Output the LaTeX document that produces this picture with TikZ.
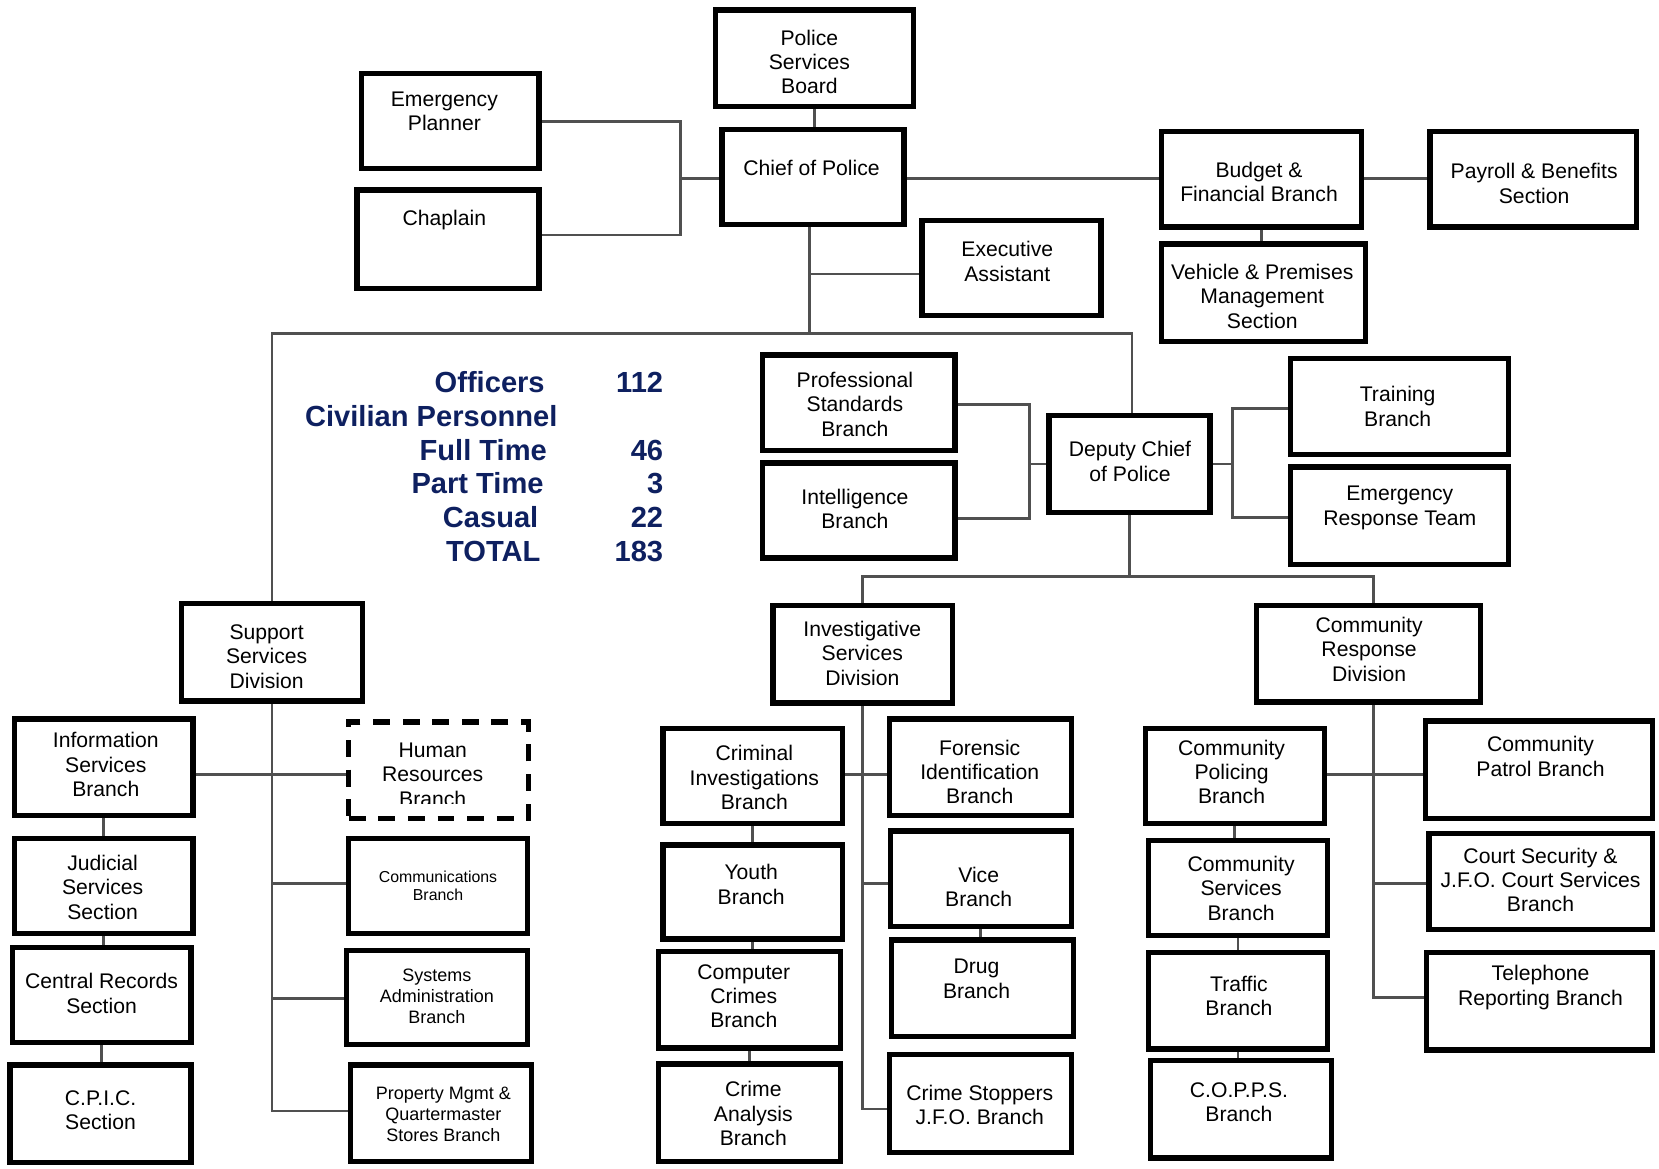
\documentclass[tikz,border=0pt]{standalone}
\usepackage{fontspec}
\setmainfont{Liberation Sans}
\usetikzlibrary{backgrounds}
\definecolor{navy}{RGB}{14,32,96}
\definecolor{conn}{RGB}{80,80,80}
\newcommand\BX[6][box]{\node[#1, minimum width={#5-#3-5}, minimum height={#6-#4-5}] (#2) at ({(#3+#5)/2},{(#4+#6)/2}) {};}
\newcommand\TX[5][]{\node[txt,#1] (#2) at (#3,#4) {#5};}
\begin{document}
\begin{tikzpicture}[x=1pt,y=-1pt,
 box/.style={draw=black, line width=5pt, fill=white, inner sep=0pt},
 hrbox/.style={box, dash pattern=on 16pt off 12pt},
 txt/.style={align=center, font=\fontsize{20}{23}\selectfont, inner sep=0pt},
 small/.style={font=\fontsize{15}{17}\selectfont},
 mid/.style={font=\fontsize{17}{20}\selectfont},
 stat/.style={font=\bfseries\fontsize{27.5}{32}\selectfont, text=navy, inner sep=0pt, anchor=east},
 ln/.style={draw=conn, line width=2.5pt}]
\useasboundingbox (0,0) rectangle (1568,1104);
% boxes
\BX{psb}{674}{7}{866}{103}
\TX{psbt}{765}{58.5}{Police\\Services\\Board}
\BX{chief}{680}{120}{857}{215}
\TX{chieft}{767}{158.5}{Chief of Police}
\BX{ep}{339}{67}{512}{162}
\TX{ept}{420}{105}{Emergency\\Planner}
\BX{chap}{335}{177}{512}{275}
\TX{chapt}{420}{208}{Chaplain}
\BX{ea}{869}{206}{1043}{301}
\TX{eat}{952}{247}{Executive\\Assistant}
\BX{bud}{1095}{122}{1289}{217}
\TX{budt}{1190}{172}{Budget \&\\Financial Branch}
\BX{pay}{1349}{122}{1549}{217}
\TX{payt}{1450}{173.5}{Payroll \& Benefits\\Section}
\BX{veh}{1095}{228}{1293}{325}
\TX{veht}{1193}{280}{Vehicle \& Premises\\Management\\Section}
\BX{ps}{718}{333}{905}{428}
\TX{pst}{808}{382}{Professional\\Standards\\Branch}
\BX{intel}{718}{435}{905}{530}
\TX{intelt}{808}{481}{Intelligence\\Branch}
\BX{dep}{989}{390}{1146}{487}
\TX{dept}{1068}{436}{Deputy Chief\\of Police}
\BX{tr}{1217}{336}{1428}{432}
\TX{trt}{1321}{384}{Training\\Branch}
\BX{ert}{1217}{439}{1428}{536}
\TX{ertt}{1323}{480}{Emergency\\Response Team}
\BX{ssd}{169}{568}{345}{665}
\TX{ssdt}{252}{620.5}{Support\\Services\\Division}
\BX{isd}{728}{570}{903}{667}
\TX{isdt}{815}{617.5}{Investigative\\Services\\Division}
\BX{crd}{1185}{570}{1402}{666}
\TX{crdt}{1294}{613.5}{Community\\Response\\Division}
\BX{isb}{11}{677}{185}{773}
\TX{isbt}{100}{722.5}{Information\\Services\\Branch}
\BX[hrbox]{hr}{327}{680}{502}{776}
\begin{scope}
\clip (330,683) rectangle (500,759);
\TX{hrt}{409}{732}{Human\\Resources\\Branch}
\end{scope}
\BX{jud}{11}{790}{185}{885}
\TX{judt}{97}{838.5}{Judicial\\Services\\Section}
\BX{comm}{327}{790}{501}{885}
\TX[small]{commt}{414}{837}{Communications\\Branch}
\BX{cr}{9}{893}{183}{988}
\TX{crt}{96}{939}{Central Records\\Section}
\BX{sys}{325}{896}{501}{990}
\TX[mid]{syst}{413}{941.5}{Systems\\Administration\\Branch}
\BX{cpic}{7}{1004}{183}{1101}
\TX{cpict}{95}{1049}{C.P.I.C.\\Section}
\BX{prop}{329}{1004}{505}{1100}
\TX[mid]{propt}{419}{1053}{Property Mgmt \&\\Quartermaster\\Stores Branch}
\BX{cib}{624}{686}{799}{781}
\TX{cibt}{713}{735}{Criminal\\Investigations\\Branch}
\BX{fib}{838}{677}{1015}{773}
\TX{fibt}{926}{729.5}{Forensic\\Identification\\Branch}
\BX{youth}{624}{796}{799}{890}
\TX{youtht}{710}{836}{Youth\\Branch}
\BX{vice}{839}{783}{1015}{878}
\TX{vicet}{925}{838}{Vice\\Branch}
\BX{ccb}{620}{897}{797}{993}
\TX{ccbt}{703}{941.5}{Computer\\Crimes\\Branch}
\BX{drug}{840}{886}{1017}{982}
\TX{drugt}{923}{925}{Drug\\Branch}
\BX{ca}{620}{1003}{797}{1100}
\TX{cat}{712}{1052.5}{Crime\\Analysis\\Branch}
\BX{cs}{838}{994}{1015}{1092}
\TX{cst}{926}{1044}{Crime Stoppers\\J.F.O. Branch}
\BX{cpb}{1080}{686}{1254}{781}
\TX{cpbt}{1164}{729.5}{Community\\Policing\\Branch}
\BX{cpat}{1345}{679}{1564}{776}
\TX{cpatt}{1456}{715}{Community\\Patrol Branch}
\BX{csb}{1083}{792}{1257}{887}
\TX{csbt}{1173}{839.5}{Community\\Services\\Branch}
\BX{court}{1348}{785}{1564}{881}
\TX{courtt}{1456}{831.5}{Court Security \&\\J.F.O. Court Services\\Branch}
\BX{traf}{1083}{898}{1257}{994}
\TX{traft}{1171}{941}{Traffic\\Branch}
\BX{tel}{1346}{898}{1564}{995}
\TX{telt}{1456}{933.5}{Telephone\\Reporting Branch}
\BX{copps}{1085}{1000}{1261}{1097}
\TX{coppst}{1171}{1042}{C.O.P.P.S.\\Branch}
% statistics
\node[stat] (s-off) at (515,361) {Officers};
\node[stat] (s-civ) at (527,393) {Civilian Personnel};
\node[stat] (s-ft) at (517,425.5) {Full Time};
\node[stat] (s-pt) at (514,457) {Part Time};
\node[stat] (s-cas) at (509,489) {Casual};
\node[stat] (s-tot) at (511,521) {TOTAL};
\node[stat] (n-off) at (627,361) {112};
\node[stat] (n-ft) at (627,425.5) {46};
\node[stat] (n-pt) at (627,457) {3};
\node[stat] (n-cas) at (627,489) {22};
\node[stat] (n-tot) at (627,521) {183};
% connectors
\begin{pgfonlayer}{background}
\coordinate (epj) at (643,115);
\coordinate (chj) at (643,222);
\coordinate (cmj) at (643,169);
\draw[ln] (ep.east|-epj) -- (epj) -- (chj) -- (chap.east|-chj);
\draw[ln] (chief.west|-cmj) -- (cmj);
\draw[ln] (psb.south) -- (psb.south|-chief.north);
\coordinate (cbj) at (1000,169);
\draw[ln] (chief.east|-cbj) -- (bud.west|-cbj);
\draw[ln] (bud.east|-cbj) -- (pay.west|-cbj);
\draw[ln] (bud.south) -- (bud.south|-veh.north);
\coordinate (cj) at (765,315);
\coordinate (eaj) at (765,259);
\draw[ln] (chief.south-|cj) -- (cj);
\draw[ln] (eaj) -- (ea.west|-eaj);
\coordinate (lj) at (257,315);
\coordinate (rj) at (1070,315);
\draw[ln] (ssd.north-|lj) -- (lj) -- (rj) -- (dep.north-|rj);
\coordinate (d1) at (973,382);
\coordinate (d2) at (973,490);
\draw[ln] (ps.east|-d1) -- (d1) -- (d2) -- (intel.east|-d2);
\draw[ln] (dep.west) -- (dep.west-|d1);
\coordinate (d3) at (1165,386);
\coordinate (d4) at (1165,489);
\draw[ln] (tr.west|-d3) -- (d3) -- (d4) -- (ert.west|-d4);
\draw[ln] (dep.east) -- (dep.east-|d3);
\coordinate (h1) at (815,545);
\coordinate (h2) at (1298,545);
\draw[ln] (isd.north-|h1) -- (h1) -- (h2) -- (crd.north-|h2);
\draw[ln] (dep.south) -- (dep.south|-h1);
% support
\coordinate (s0) at (257,1050);
\coordinate (s1) at (257,732);
\coordinate (s2) at (257,835);
\coordinate (s3) at (257,944);
\draw[ln] (ssd.south-|s0) -- (s0) -- (prop.west|-s0);
\draw[ln] (isb.east|-s1) -- (hr.west|-s1);
\draw[ln] (s2) -- (comm.west|-s2);
\draw[ln] (s3) -- (sys.west|-s3);
\draw[ln] (isb.south) -- (isb.south|-jud.north);
\draw[ln] (jud.south) -- (jud.south|-cr.north);
\draw[ln] (cr.south) -- (cr.south|-cpic.north);
% investigative
\coordinate (i0) at (815,1048);
\coordinate (i1) at (815,732);
\coordinate (i2) at (815,835);
\draw[ln] (isd.south-|i0) -- (i0) -- (cs.west|-i0);
\draw[ln] (cib.east|-i1) -- (fib.west|-i1);
\draw[ln] (i2) -- (vice.west|-i2);
\draw[ln] (cib.south) -- (cib.south|-youth.north);
\draw[ln] (youth.south) -- (youth.south|-ccb.north);
\draw[ln] (ccb.south) -- (ccb.south|-ca.north);
\draw[ln] (vice.south) -- (vice.south|-drug.north);
% community
\coordinate (c0) at (1298,943);
\coordinate (c1) at (1298,732);
\coordinate (c2) at (1298,835);
\draw[ln] (crd.south-|c0) -- (c0) -- (tel.west|-c0);
\draw[ln] (cpb.east|-c1) -- (cpat.west|-c1);
\draw[ln] (c2) -- (court.west|-c2);
\draw[ln] (cpb.south) -- (cpb.south|-csb.north);
\draw[ln] (csb.south) -- (csb.south|-traf.north);
\draw[ln] (traf.south) -- (traf.south|-copps.north);
\end{pgfonlayer}
\end{tikzpicture}
\end{document}
